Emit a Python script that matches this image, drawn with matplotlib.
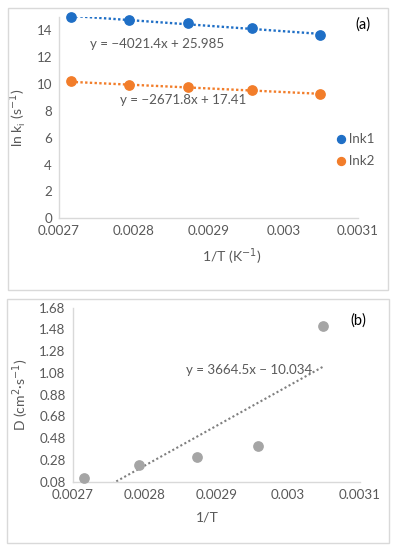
import numpy as np
import matplotlib.pyplot as plt
from matplotlib.patches import Rectangle

plt.rcParams['font.family'] = ['Lato', 'DejaVu Sans']

# data
inv_T = [0.002716, 0.002793, 0.002873, 0.002958, 0.003049]
lnk1 = [15.0, 14.76, 14.55, 14.15, 13.62]
lnk2 = [10.18, 9.95, 9.75, 9.58, 9.23]
D = [0.115, 0.23, 0.31, 0.41, 1.51]

fit1 = (-4021.4, 25.985)
fit2 = (-2671.8, 17.41)
fit3 = (3664.5, -10.034)

xticks = [0.0027, 0.0028, 0.0029, 0.003, 0.0031]
xtick_labels = ['0.0027', '0.0028', '0.0029', '0.003', '0.0031']
yticks_a = [0, 2, 4, 6, 8, 10, 12, 14]
yticks_b = [0.08, 0.28, 0.48, 0.68, 0.88, 1.08, 1.28, 1.48, 1.68]

blue = '#1f6fc6'
orange = '#f27d2a'
grey_pt = '#a5a5a5'
txt = '#595959'
spine = '#d9d9d9'
fs = 9.6

W, H = 395, 550
fig = plt.figure(figsize=(W / 100, H / 100), dpi=100)


def box(x0, y0, x1, y1):
    # pixel coords (top-left origin) to figure fraction
    return [x0 / W, 1 - y1 / H, (x1 - x0) / W, (y1 - y0) / H]


# panel borders
for b in [(8, 8, 388, 290), (7, 299, 389, 543)]:
    l, bt, w, h = box(*b)
    fig.add_artist(Rectangle((l, bt), w, h, transform=fig.transFigure,
                             fill=False, edgecolor='#d9d9d9', lw=1.0))


def style(ax):
    for s in ['top', 'right']:
        ax.spines[s].set_visible(False)
    for s in ['left', 'bottom']:
        ax.spines[s].set_color(spine)
        ax.spines[s].set_linewidth(1.0)
    ax.tick_params(length=0, colors=txt, labelsize=fs, pad=5)
    ax.set_xticks(xticks)
    ax.set_xticklabels(xtick_labels)
    ax.set_xlim(0.0027, 0.0031)


# panel (a)
ax1 = fig.add_axes(box(59, 16.7, 358, 218.3))
style(ax1)
ax1.set_ylim(0, 15.0)
ax1.set_yticks(yticks_a)
xs = np.array([inv_T[0], inv_T[-1]])
ax1.plot(xs, fit1[0] * xs + fit1[1], ls=(0, (1, 1)), color=blue, lw=1.7)
ax1.plot(xs, fit2[0] * xs + fit2[1], ls=(0, (1, 1)), color=orange, lw=1.7)
ax1.scatter(inv_T, lnk1, s=45, color=blue, zorder=3, clip_on=False, label='lnk1')
ax1.scatter(inv_T, lnk2, s=45, color=orange, zorder=3, clip_on=False, label='lnk2')
ax1.text(0.002831, 13.0, 'y = \u22124021.4x + 25.985', ha='center', va='center',
         color=txt, fontsize=fs)
ax1.text(0.002866, 8.8, 'y = \u22122671.8x + 17.41', ha='center', va='center',
         color=txt, fontsize=fs)
leg = ax1.legend(loc='center left', bbox_to_anchor=(0.925, 0.34), frameon=False,
                 fontsize=fs, handlelength=0.8, handletextpad=0.2, labelspacing=0.75,
                 borderaxespad=0, borderpad=0, markerscale=0.85)
for t in leg.get_texts():
    t.set_color(txt)
ax1.set_ylabel('ln k$_\\mathregular{i}$ (s$^{-1}$)', color=txt, fontsize=fs + 0.5, labelpad=6)
fig.text(232 / W, 1 - 257 / H, '1/T (K$^{-1}$)', ha='center', va='center',
         color=txt, fontsize=fs + 0.5)
fig.text(363 / W, 1 - 25 / H, '(a)', ha='center', va='center',
         color='black', fontsize=10.5)

# panel (b)
ax2 = fig.add_axes(box(72.7, 307.7, 360, 481.7))
style(ax2)
ax2.set_ylim(0.08, 1.68)
ax2.set_yticks(yticks_b)
ax2.set_yticklabels([f'{v:.2f}' for v in yticks_b])
xs = np.linspace(inv_T[0], inv_T[-1], 50)
ax2.plot(xs, fit3[0] * xs + fit3[1], ls=(0, (1, 1.2)), color='#7f7f7f', lw=1.5)
ax2.scatter(inv_T, D, s=45, color=grey_pt, zorder=3, clip_on=False)
ax2.text(0.002946, 1.11, 'y = 3664.5x \u2212 10.034', ha='center', va='center',
         color=txt, fontsize=fs)
ax2.set_ylabel('D (cm$^2$\u00b7s$^{-1}$)', color=txt, fontsize=fs + 0.5, labelpad=6)
fig.text(207 / W, 1 - 517 / H, '1/T', ha='center', va='center',
         color=txt, fontsize=fs + 0.5)
fig.text(358 / W, 1 - 321 / H, '(b)', ha='center', va='center',
         color='black', fontsize=10.5)

fig.savefig('out.png', dpi=100)
